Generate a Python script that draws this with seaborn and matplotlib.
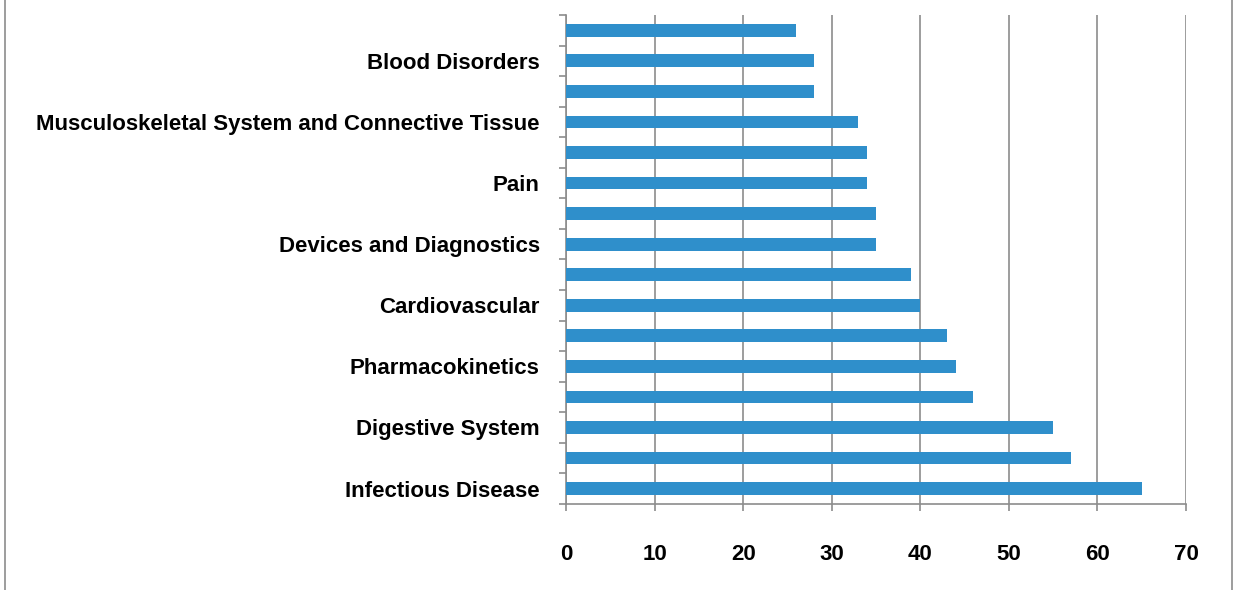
import matplotlib
matplotlib.use("Agg")
import numpy as np
import pandas as pd
import matplotlib.pyplot as plt
import seaborn as sns
from matplotlib.lines import Line2D

# categories from top to bottom; only every other name is printed in the source chart
categories = [
    "Category 16", "Blood Disorders", "Category 14",
    "Musculoskeletal System and Connective Tissue", "Category 12", "Pain",
    "Category 10", "Devices and Diagnostics", "Category 8", "Cardiovascular",
    "Category 6", "Pharmacokinetics", "Category 4", "Digestive System",
    "Category 2", "Infectious Disease",
]
values = [26, 28, 28, 33, 34, 34, 35, 35, 39, 40, 43, 44, 46, 55, 57, 65]
shown_labels = [
    "", "Blood Disorders", "", "Musculoskeletal System and Connective Tissue",
    "", "Pain", "", "Devices and Diagnostics", "", "Cardiovascular", "",
    "Pharmacokinetics", "", "Digestive System", "", "Infectious Disease",
]
x_ticks = [0, 10, 20, 30, 40, 50, 60, 70]

sns.set_style("white")
plt.rcParams['font.family'] = ['Liberation Sans', 'DejaVu Sans']

df = pd.DataFrame({"category": categories, "value": values})

fig = plt.figure(figsize=(12.36, 5.90), dpi=100)
ax = fig.add_axes([0.458, 0.146, 0.5015, 0.8285])

sns.barplot(data=df, y="category", x="value", orient="h", color="#2F8FCB",
            width=0.42, saturation=1, linewidth=0, ax=ax, zorder=3)

ax.set_xlim(0, 70)
ax.set_ylim(len(categories) - 0.5, -0.5)
ax.set_xticks(x_ticks)
ax.set_xticklabels([str(t) for t in x_ticks], fontsize=16, fontweight="bold", color="black")
ax.set_yticks(np.arange(len(categories)))
ax.set_yticklabels(shown_labels, fontsize=16, fontweight="bold", color="black")
ax.tick_params(axis="y", left=True, length=0, pad=19)
ax.tick_params(axis="x", bottom=True, length=5, width=1.2, color="#8c8c8c", pad=24, direction="out")

# minor ticks between categories, Excel style
ax.set_yticks(np.arange(len(categories) + 1) - 0.5, minor=True)
ax.tick_params(axis="y", which="minor", left=True, length=5, width=1.2, color="#8c8c8c", direction="out")

ax.xaxis.grid(True, color="#8c8c8c", linewidth=1.2, zorder=0)
ax.set_axisbelow(True)
for side in ["top", "right"]:
    ax.spines[side].set_visible(False)
for side in ["left", "bottom"]:
    ax.spines[side].set_color("#8c8c8c")
    ax.spines[side].set_linewidth(1.2)
ax.set_xlabel("")
ax.set_ylabel("")

# chart frame on the sides
fig.add_artist(Line2D([0.004, 0.004], [0, 1], color="#8c8c8c", lw=1.2, transform=fig.transFigure))
fig.add_artist(Line2D([0.997, 0.997], [0, 1], color="#8c8c8c", lw=1.2, transform=fig.transFigure))

plt.savefig("out.png", dpi=100)
